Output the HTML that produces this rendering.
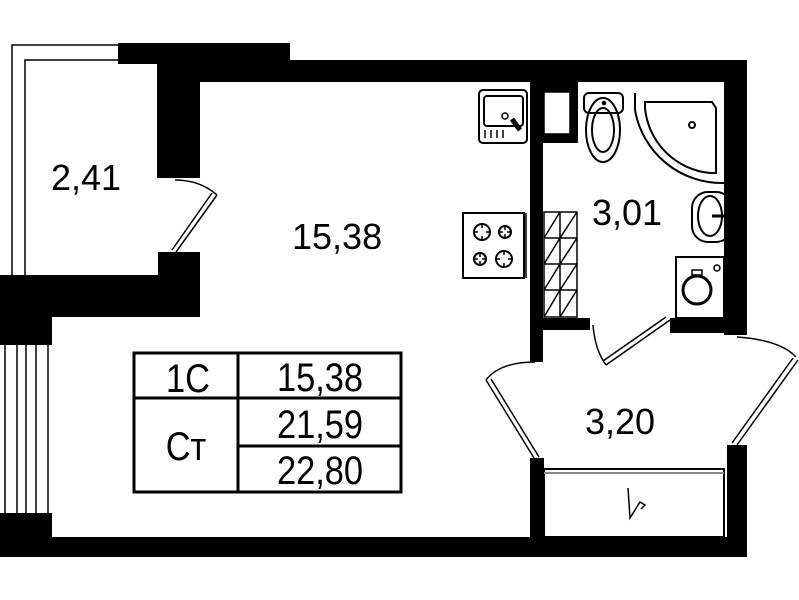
<!DOCTYPE html>
<html><head><meta charset="utf-8"><style>
html,body{margin:0;padding:0;background:#fff;}
svg{display:block}
text{font-family:"Liberation Sans",sans-serif;fill:#000}
</style></head><body>
<svg width="799" height="600" viewBox="0 0 799 600" xmlns="http://www.w3.org/2000/svg">
<g fill="#000">
<rect x="118" y="43" width="172" height="21"/>
<rect x="157" y="60" width="590" height="22"/>
<rect x="157" y="60" width="43" height="118"/>
<rect x="158" y="252" width="42" height="65"/>
<rect x="0" y="275" width="200" height="42"/>
<rect x="0" y="275" width="52" height="70"/>
<rect x="0" y="513" width="52" height="44"/>
<rect x="0" y="537" width="747" height="20"/>
<rect x="724" y="60" width="23" height="275"/>
<rect x="727" y="445" width="20" height="112"/>
<rect x="530" y="82" width="13" height="280"/>
<rect x="530" y="318" width="60" height="12"/>
<rect x="670" y="318" width="77" height="15"/>
<rect x="530" y="458" width="14" height="99"/>
<rect x="543" y="82" width="35" height="61"/>
</g>
<rect x="544" y="92" width="26" height="42" fill="#fff" stroke="#000" stroke-width="1.5"/>
<g fill="none" stroke="#000" stroke-width="1.5">
<polyline points="12,275 12,45 118,45"/>
<polyline points="25,275 25,60 118,60"/>
<line x1="5" y1="345" x2="5" y2="513"/>
<line x1="17" y1="345" x2="17" y2="513"/>
<line x1="26" y1="345" x2="26" y2="513"/>
<line x1="36" y1="345" x2="36" y2="513"/>
<line x1="48" y1="345" x2="48" y2="513"/>
<path d="M175,180 Q200,180 217,195"/>
<line x1="217" y1="195" x2="176" y2="252"/>
<line x1="212" y1="193" x2="172" y2="250"/>
<rect x="479" y="90" width="48" height="53" rx="4" stroke-width="2"/>
<rect x="484" y="96" width="39" height="30" rx="3" stroke-width="2"/>
<circle cx="505" cy="116" r="3"/>
<line x1="485" y1="130" x2="485" y2="138"/><line x1="491" y1="130" x2="491" y2="138"/><line x1="497" y1="130" x2="497" y2="138"/><line x1="503" y1="130" x2="503" y2="138"/>
<line x1="512" y1="119" x2="520" y2="130" stroke-width="5"/>
<rect x="463" y="213" width="61" height="65" stroke-width="2"/>
<line x1="526" y1="213" x2="526" y2="278"/>
<circle cx="482" cy="232" r="8" stroke-width="2"/><circle cx="505" cy="232" r="6" stroke-width="2"/>
<circle cx="480" cy="259" r="6" stroke-width="2"/><circle cx="504" cy="259" r="8" stroke-width="2"/>
<path d="M482,224v4M482,236v4M474,232h4M486,232h4M505,227v3M505,234v3M500,232h3M507,232h3M480,254v3M480,261v3M475,259h3M482,259h3M504,251v4M504,263v4M496,259h4M508,259h4"/>
<rect x="544" y="212" width="33" height="105"/>
<line x1="560" y1="212" x2="560" y2="317"/>
<line x1="544" y1="238" x2="577" y2="238"/><line x1="544" y1="264" x2="577" y2="264"/><line x1="544" y1="290" x2="577" y2="290"/>
<path d="M544,238 L560,212 M560,238 L577,212 M544,264 L560,238 M560,264 L577,238 M544,290 L560,264 M560,290 L577,264 M544,317 L560,290 M560,317 L577,290"/>
<rect x="584" y="93" width="39" height="20" rx="5" stroke-width="2"/>
<ellipse cx="603" cy="130" rx="17" ry="32" stroke-width="2"/>
<ellipse cx="603" cy="130" rx="11" ry="22" stroke-width="2"/>
<circle cx="604" cy="103" r="1.5" fill="#000"/>
<path d="M635,93 L635,110 A88,88 0 0 0 724,183" stroke-width="2"/>
<path d="M645,102 L712,102 L716,108 L716,173 L710,173 A72,72 0 0 1 645,108 Z" stroke-width="2"/>
<circle cx="692" cy="125" r="3" stroke-width="2"/>
<rect x="692" y="192" width="40" height="50" rx="16" stroke-width="2"/>
<ellipse cx="710" cy="216" rx="12" ry="20" stroke-width="2"/>
<line x1="712" y1="216" x2="724" y2="216" stroke-width="3"/>
<rect x="676" y="257" width="48" height="61" stroke-width="2"/>
<circle cx="697" cy="290" r="14" stroke-width="3"/>
<rect x="692" y="270" width="10" height="5" stroke-width="1.5"/>
<circle cx="717" cy="268" r="3" stroke-width="1.5"/>
<path d="M593,325 Q595,350 606,365"/>
<line x1="606" y1="365" x2="670" y2="320"/>
<line x1="603" y1="361" x2="666" y2="317"/>
<path d="M535,362 Q500,362 486,380"/>
<line x1="486" y1="380" x2="534" y2="458"/>
<line x1="491" y1="379" x2="539" y2="457"/>
<path d="M737,337 Q780,340 796,357"/>
<line x1="798" y1="360" x2="737" y2="445"/>
<line x1="793" y1="358" x2="732" y2="443"/>
<rect x="544" y="469" width="180" height="68" stroke-width="2"/>
<line x1="544" y1="473" x2="724" y2="473" stroke="#888" stroke-width="2"/>
<path d="M628,488 L630,518 L640,502 L645,505 L641,509" stroke-width="1.5"/>
<rect x="134" y="353" width="267" height="139" stroke-width="3"/>
<line x1="238" y1="353" x2="238" y2="492" stroke-width="3"/>
<line x1="134" y1="398" x2="401" y2="398" stroke-width="3"/>
<line x1="238" y1="446" x2="401" y2="446" stroke-width="3"/>
</g>
<g font-size="36">
<text x="51" y="190">2,41</text>
<text x="292" y="249">15,38</text>
<text x="592" y="225">3,01</text>
<text x="585" y="434">3,20</text>
</g>
<g font-size="40" text-anchor="middle">
<text transform="translate(188 392) scale(0.86 1)">1C</text>
<text transform="translate(320 391) scale(0.86 1)">15,38</text>
<text transform="translate(320 438) scale(0.86 1)">21,59</text>
<text transform="translate(320 484) scale(0.86 1)">22,80</text>
<text transform="translate(186 460) scale(0.86 1)">Cт</text>
</g>
</svg>
</body></html>
